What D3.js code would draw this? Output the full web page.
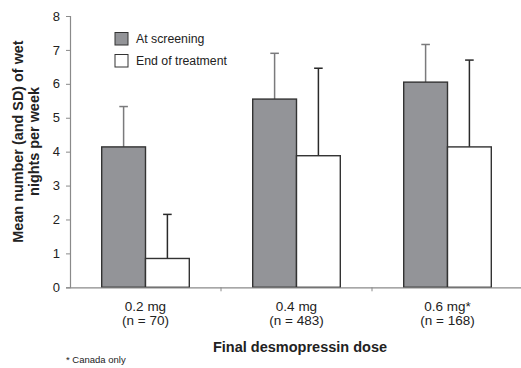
<!DOCTYPE html>
<html>
<head>
<meta charset="utf-8">
<script src="https://cdn.jsdelivr.net/npm/d3@7"></script>
<style>
  html, body { margin: 0; padding: 0; background: #fff; }
  svg { display: block; font-family: "Liberation Sans", Arial, sans-serif; }
</style>
</head>
<body>
<svg id="chart" width="521" height="368"></svg>
<script>
// Dose groups and their sample sizes
const doses = ["0.2 mg", "0.4 mg", "0.6 mg*"];
const groupSizes = ["(n = 70)", "(n = 483)", "(n = 168)"];
const seriesNames = ["At screening", "End of treatment"];

// Mean wet nights per week and standard deviations
const screeningMean = [4.14, 5.55, 6.05];
const screeningSD = [1.19, 1.35, 1.11];
const endMean = [0.85, 3.88, 4.14];
const endSD = [1.30, 2.58, 2.56];

const yTicks = [0, 1, 2, 3, 4, 5, 6, 7, 8];

const svg = d3.select("#chart");
const left = 70;

const x = d3.scaleBand().domain(doses).range([left, 523]);
const y = d3.scaleLinear().domain([0, 8]).range([287.3, 16]);

const series = [
  { name: seriesNames[0], mean: screeningMean, sd: screeningSD, fill: "#939498", err: "#7a7a7c" },
  { name: seriesNames[1], mean: endMean, sd: endSD, fill: "#ffffff", err: "#2a2a2a" }
];

const barW = 43.8;
const inner = d3.scaleBand().domain(seriesNames).range([-barW, barW]);

// Y axis
const yAxis = d3.axisLeft(y).tickValues(yTicks).tickSize(4).tickPadding(6).tickFormat(d3.format("d"));
const ya = svg.append("g").attr("transform", `translate(${left},0)`).call(yAxis);
ya.select(".domain").attr("stroke", "#8a8a8a").attr("stroke-width", 1.2);
ya.selectAll(".tick line").attr("stroke", "#8a8a8a");
ya.selectAll(".tick text").attr("font-size", 13).attr("fill", "#222")
  .attr("font-family", "Liberation Sans, Arial, sans-serif");

// Upward SD whiskers with caps
series.forEach(s => {
  const g = svg.append("g");
  doses.forEach((d, i) => {
    const xm = x(d) + x.bandwidth() / 2 + inner(s.name) + barW / 2;
    const top = y(s.mean[i] + s.sd[i]);
    g.append("line")
      .attr("x1", xm).attr("x2", xm)
      .attr("y1", y(s.mean[i])).attr("y2", top)
      .attr("stroke", s.err).attr("stroke-width", 1.5);
    g.append("line")
      .attr("x1", xm - 4.3).attr("x2", xm + 4.3)
      .attr("y1", top).attr("y2", top)
      .attr("stroke", s.err).attr("stroke-width", 1.5);
  });
});

// Bars
series.forEach(s => {
  svg.append("g").selectAll("rect").data(doses).join("rect")
    .attr("x", d => x(d) + x.bandwidth() / 2 + inner(s.name))
    .attr("width", barW)
    .attr("y", (d, i) => y(s.mean[i]))
    .attr("height", (d, i) => y(0) - y(s.mean[i]))
    .attr("fill", s.fill)
    .attr("stroke", "#333")
    .attr("stroke-width", 1.4);
});

// X axis
const xAxis = d3.axisBottom(x).tickSize(0).tickFormat("");
const xa = svg.append("g").attr("transform", `translate(0,${y(0)})`).call(xAxis);
xa.select(".domain").attr("stroke", "#8a8a8a").attr("stroke-width", 1.2);
// separators between dose groups
xa.selectAll(".sep").data(doses.slice(1)).join("line")
  .attr("class", "sep")
  .attr("x1", d => x(d)).attr("x2", d => x(d))
  .attr("y1", 0).attr("y2", 4)
  .attr("stroke", "#8a8a8a");

// Category labels
const lab = svg.append("g").attr("font-size", 13.5).attr("fill", "#222").attr("text-anchor", "middle");
doses.forEach((d, i) => {
  const cx = x(d) + x.bandwidth() / 2;
  lab.append("text").attr("x", cx).attr("y", 311).text(d);
  lab.append("text").attr("x", cx).attr("y", 325).text(groupSizes[i]);
});

// Axis titles
svg.append("text")
  .attr("x", 300).attr("y", 352)
  .attr("text-anchor", "middle")
  .attr("font-size", 14.5).attr("font-weight", "bold").attr("fill", "#222")
  .text("Final desmopressin dose");

const yt = svg.append("text")
  .attr("transform", "translate(22.5,141.5) rotate(-90)")
  .attr("text-anchor", "middle")
  .attr("font-size", 14.4).attr("font-weight", "bold").attr("fill", "#222");
yt.append("tspan").attr("x", 0).attr("dy", 0).text("Mean number (and SD) of wet");
yt.append("tspan").attr("x", 0).attr("dy", 16.5).text("nights per week");

// Footnote
svg.append("text")
  .attr("x", 66).attr("y", 363)
  .attr("font-size", 9.5).attr("fill", "#222")
  .text("* Canada only");

// Legend
const legend = svg.append("g");
series.forEach((s, i) => {
  const ly = 32.5 + i * 22;
  legend.append("rect")
    .attr("x", 115).attr("y", ly).attr("width", 13).attr("height", 12.5)
    .attr("fill", s.fill).attr("stroke", "#333").attr("stroke-width", 1);
  legend.append("text")
    .attr("x", 136).attr("y", ly + 10)
    .attr("font-size", 12.3).attr("fill", "#222")
    .text(s.name);
});
</script>
</body>
</html>
